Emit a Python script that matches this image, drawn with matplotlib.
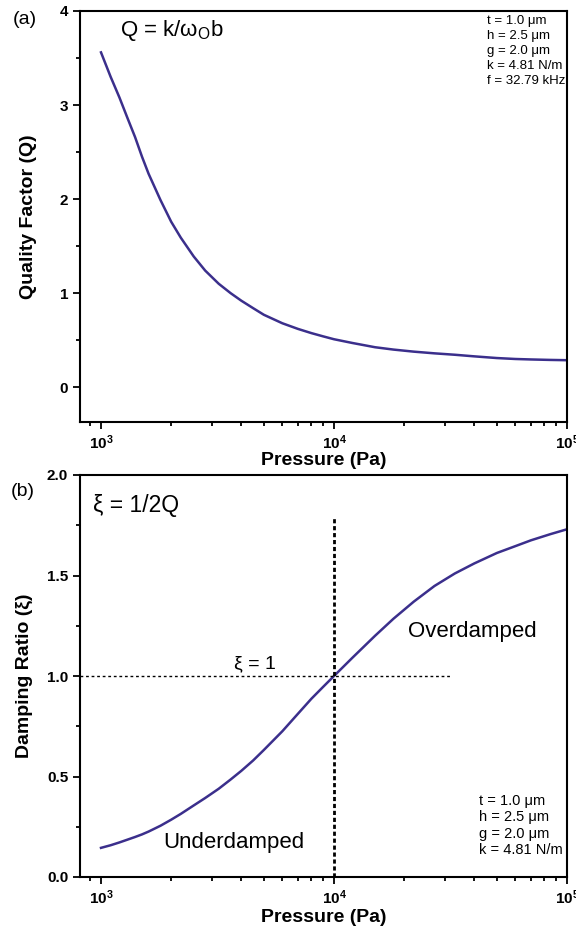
import numpy as np
import matplotlib
matplotlib.use('Agg')
import matplotlib.pyplot as plt
from matplotlib.ticker import LogLocator, NullFormatter, MultipleLocator, FixedLocator, FixedFormatter

plt.rcParams['font.family'] = ['Liberation Sans', 'DejaVu Sans']
plt.rcParams['mathtext.fontset'] = 'custom'
plt.rcParams['mathtext.rm'] = 'Liberation Sans'
plt.rcParams['mathtext.it'] = 'Liberation Sans:italic'
plt.rcParams['mathtext.bf'] = 'Liberation Sans:bold'

# dados
pressao = [1000, 1100, 1200, 1300, 1400, 1500, 1600, 1800, 2000, 2200, 2500,
           2800, 3200, 3600, 4000, 4500, 5000, 6000, 7000, 8000, 9000, 10000,
           12000, 15000, 18000, 22000, 27000, 33000, 40000, 50000, 60000,
           70000, 85000, 100000]
fator_q = [3.56, 3.30, 3.08, 2.86, 2.66, 2.45, 2.27, 1.99, 1.76, 1.59, 1.39,
           1.24, 1.10, 1.00, 0.92, 0.84, 0.77, 0.68, 0.62, 0.575, 0.54, 0.51,
           0.47, 0.425, 0.40, 0.378, 0.36, 0.345, 0.328, 0.31, 0.30,
           0.295, 0.29, 0.287]
amortecimento = [0.145, 0.158, 0.172, 0.186, 0.199, 0.212, 0.226, 0.255, 0.285,
                 0.314, 0.356, 0.393, 0.439, 0.485, 0.528, 0.58, 0.632, 0.725,
                 0.812, 0.887, 0.947, 1.0, 1.091, 1.20, 1.285, 1.37, 1.448,
                 1.51, 1.56, 1.612, 1.646, 1.675, 1.706, 1.73]

xticks = [1e3, 1e4, 1e5]
xtick_labels = [r'$\mathbf{10^{3}}$', r'$\mathbf{10^{4}}$', r'$\mathbf{10^{5}}$']

params_a = 't = 1.0 \u03bcm\nh = 2.5 \u03bcm\ng = 2.0 \u03bcm\nk = 4.81 N/m\nf = 32.79 kHz'
params_b = 't = 1.0 \u03bcm\nh = 2.5 \u03bcm\ng = 2.0 \u03bcm\nk = 4.81 N/m'

cor = '#3b2f8c'

fig = plt.figure(figsize=(5.76, 9.32), dpi=100)
ax1 = fig.add_axes([80 / 576, 1 - 422 / 932, 487 / 576, 411 / 932])
ax2 = fig.add_axes([80 / 576, 1 - 877 / 932, 487 / 576, 402 / 932])

xmin = 10 ** (3 - 21 / 233)

for ax in (ax1, ax2):
    ax.set_xscale('log')
    ax.set_xlim(xmin, 1e5)
    for s in ax.spines.values():
        s.set_linewidth(1.5)
    ax.tick_params(which='both', direction='out', top=False, right=False, width=1.3)
    ax.tick_params(which='major', length=5, labelsize=11)
    ax.tick_params(which='minor', length=3)
    ax.xaxis.set_major_locator(FixedLocator(xticks))
    ax.xaxis.set_major_formatter(FixedFormatter(xtick_labels))
    ax.xaxis.set_minor_locator(LogLocator(base=10, subs=np.arange(2, 10), numticks=20))
    ax.xaxis.set_minor_formatter(NullFormatter())

# (a) fator de qualidade
ax1.plot(pressao, fator_q, color=cor, lw=1.8)
ax1.set_ylim(-0.37, 4)
ax1.set_yticks([0, 1, 2, 3, 4])
ax1.set_yticklabels(['0', '1', '2', '3', '4'], fontweight='bold')
ax1.yaxis.set_minor_locator(MultipleLocator(0.5))
ax1.set_xlabel('Pressure (Pa)', fontsize=14, fontweight='bold', labelpad=0)
ax1.set_ylabel('Quality Factor (Q)', fontsize=14, fontweight='bold', labelpad=16)
ax1.text(0.082, 0.953, 'Q = k/\u03c9$_\\mathrm{O}$b', transform=ax1.transAxes,
         fontsize=16, va='center')
ax1.text(0.835, 0.99, params_a, transform=ax1.transAxes, fontsize=9.5, va='top',
         linespacing=1.32)

# (b) razao de amortecimento
ax2.plot(pressao, amortecimento, color=cor, lw=1.8)
ax2.set_ylim(0, 2)
ax2.set_yticks([0, 0.5, 1.0, 1.5, 2.0])
ax2.set_yticklabels(['0.0', '0.5', '1.0', '1.5', '2.0'], fontweight='bold')
ax2.yaxis.set_minor_locator(MultipleLocator(0.25))
ax2.set_xlabel('Pressure (Pa)', fontsize=14, fontweight='bold', labelpad=1)
ax2.set_ylabel('Damping Ratio (\u03be)', fontsize=14, fontweight='bold', labelpad=10)
ax2.plot([1e4, 1e4], [0, 1.79], color='black', lw=2, ls=(0, (1.5, 1)))
ax2.plot([xmin, 31500], [1.0, 1.0], color='black', lw=1, ls=(0, (2, 2)))
ax2.text(0.027, 0.925, '\u03be = 1/2Q', transform=ax2.transAxes, fontsize=16.5, va='center')
ax2.text(4580, 1.02, '\u03be = 1', fontsize=14, ha='center', va='bottom')
ax2.text(20800, 1.22, 'Overdamped', fontsize=16, va='center')
ax2.text(1845, 0.174, 'Underdamped', fontsize=16, va='center')
ax2.text(0.819, 0.05, params_b, transform=ax2.transAxes, fontsize=10.5, va='bottom',
         linespacing=1.2)

fig.text(25 / 576, 1 - 20 / 932, '(a)', fontsize=14, ha='center', va='center')
fig.text(23 / 576, 1 - 491 / 932, '(b)', fontsize=14, ha='center', va='center')

fig.savefig('out.png', dpi=100)
